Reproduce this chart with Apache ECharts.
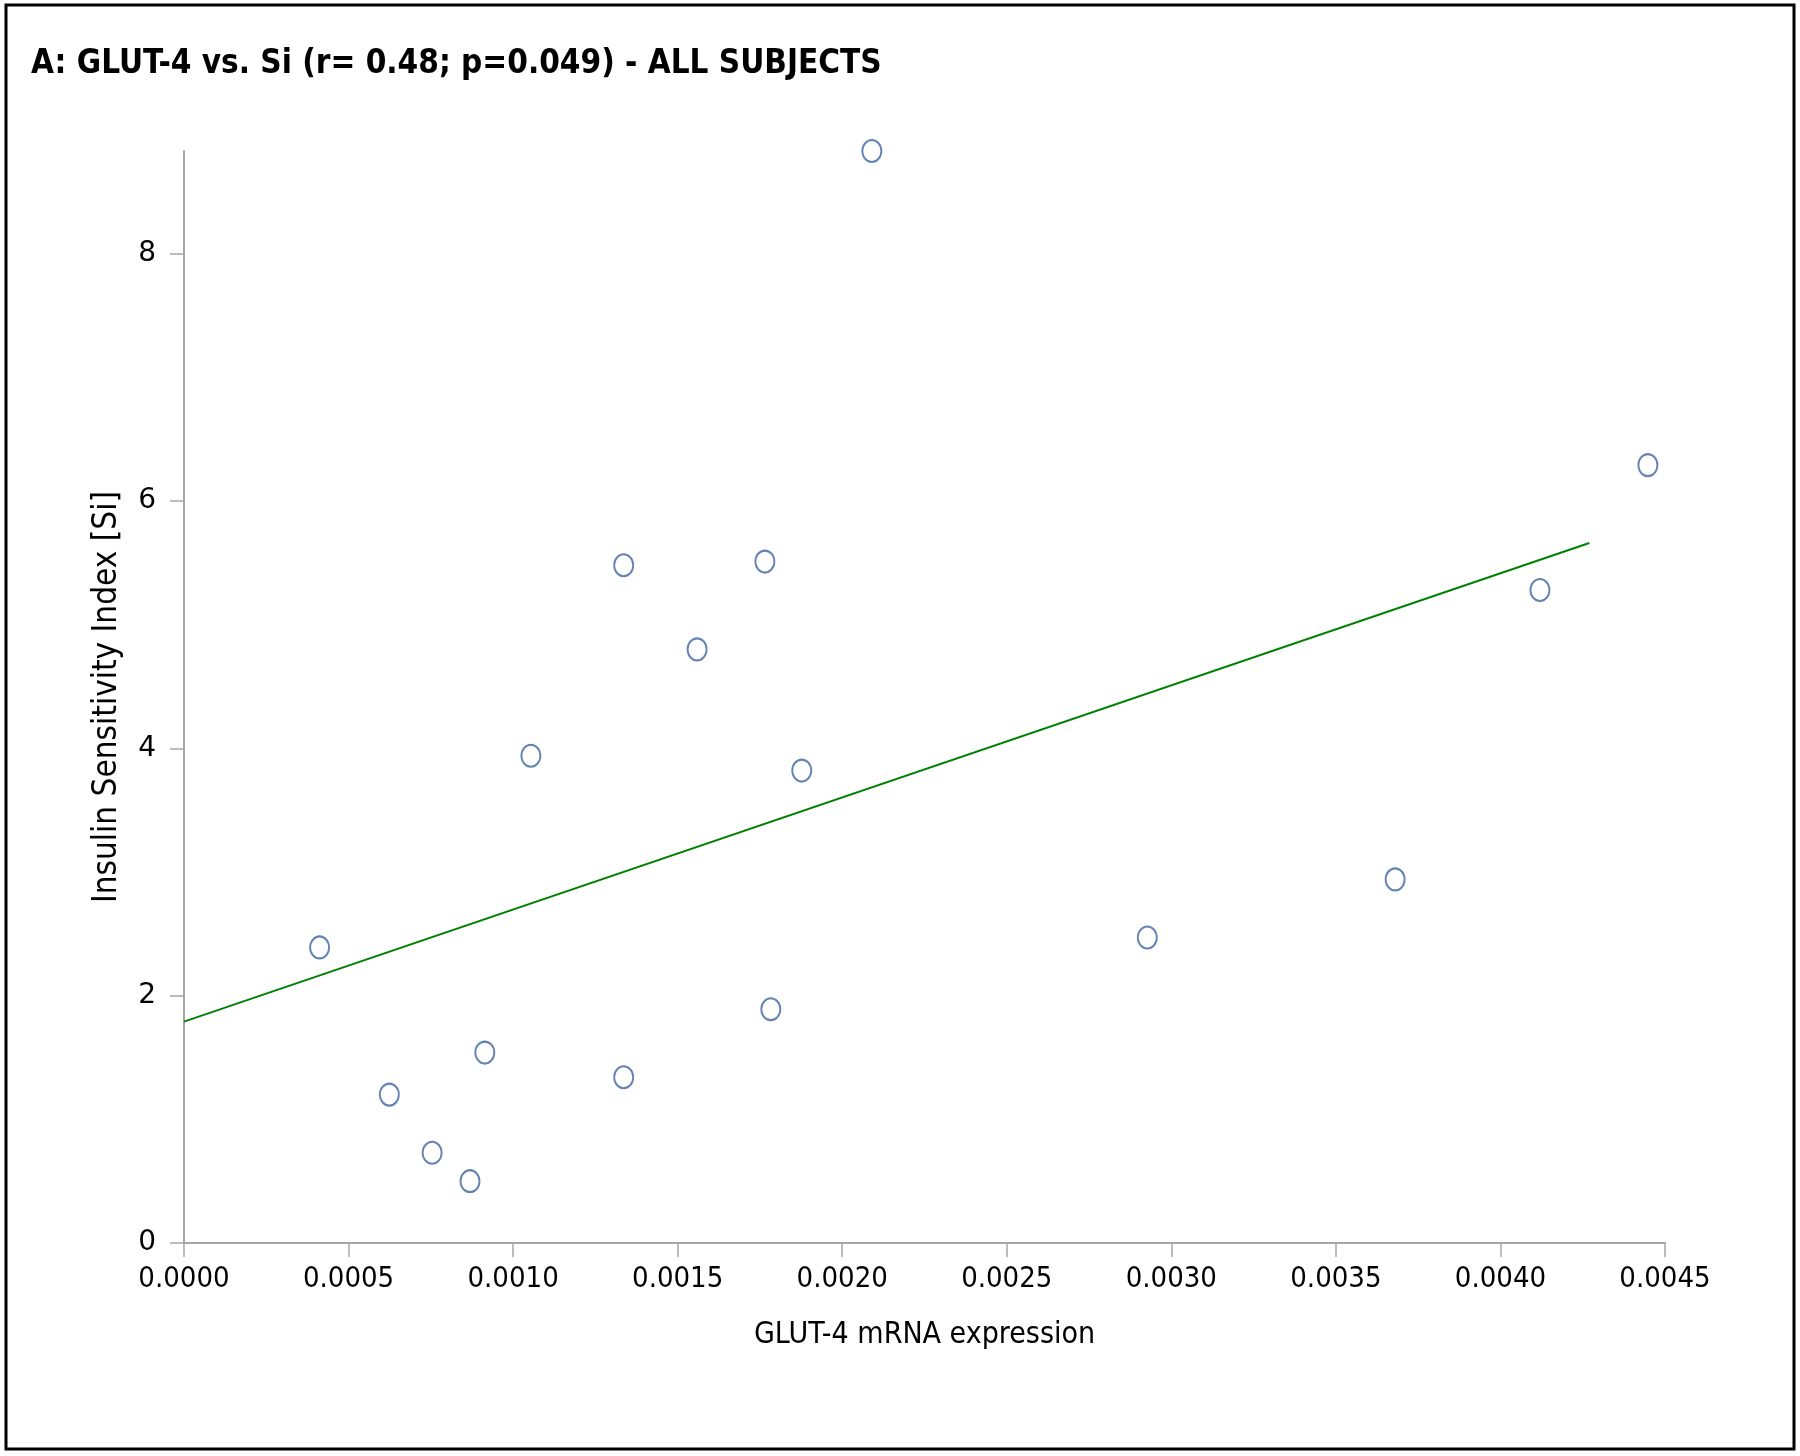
<!DOCTYPE html>
<html>
<head>
<meta charset="utf-8">
<title>GLUT-4 vs. Si</title>
<script src="https://cdn.jsdelivr.net/npm/echarts@6/dist/echarts.min.js"></script>
<style>
html, body { margin: 0; padding: 0; background: #fff; }
#chart { width: 1800px; height: 1456px; }
</style>
</head>
<body>
<div id="chart"></div>
<script>
// GLUT-4 mRNA expression (x) vs insulin sensitivity index (y)
var glut4 = [0.000412, 0.000624, 0.000754, 0.000869, 0.000914, 0.001054, 0.001336, 0.001336,
  0.001559, 0.001765, 0.001783, 0.001877, 0.002090, 0.002927, 0.003680, 0.004120, 0.004448];
var si = [2.39, 1.20, 0.73, 0.50, 1.54, 3.94, 5.48, 1.34,
  4.80, 5.51, 1.89, 3.82, 8.83, 2.47, 2.94, 5.28, 6.29];

// linear trend line end points
var trendX = [0, 0.00427];
var trendY = [1.79, 5.66];

// axis ticks
var xTicks = [0, 0.0005, 0.0010, 0.0015, 0.0020, 0.0025, 0.0030, 0.0035, 0.0040, 0.0045];
var yTicks = [0, 2, 4, 6, 8];
var yMax = 8.83;

var FONT = '"Liberation Sans Narrow", "DejaVu Sans Condensed", "Liberation Sans", sans-serif';

var points = glut4.map(function (x, i) { return [x, si[i]]; });
var trend = trendX.map(function (x, i) { return [x, trendY[i]]; });

var myChart = echarts.init(document.getElementById('chart'));
myChart.setOption({
  backgroundColor: '#fff',
  animation: false,
  title: {
    text: 'A: GLUT-4 vs. Si (r= 0.48; p=0.049) - ALL SUBJECTS',
    left: 26,
    top: 43,
    textStyle: { fontFamily: FONT, fontSize: 33, fontWeight: 'bold', color: '#000' }
  },
  graphic: [{
    type: 'rect',
    shape: { x: 6, y: 5, width: 1788, height: 1444 },
    style: { fill: null, stroke: '#000', lineWidth: 3 },
    silent: true
  }],
  grid: { left: 184, right: 135, top: 151, bottom: 213 },
  xAxis: {
    type: 'value',
    min: 0,
    max: 0.0045,
    interval: 0.0005,
    name: 'GLUT-4 mRNA expression',
    nameLocation: 'middle',
    nameGap: 77,
    nameTextStyle: { fontFamily: FONT, fontSize: 30, color: '#000' },
    axisLine: { lineStyle: { color: '#A6A6A6', width: 2 } },
    axisTick: { show: true, inside: false, length: 14, lineStyle: { color: '#A6A6A6', width: 1.5 } },
    axisLabel: {
      fontFamily: FONT, fontSize: 29, color: '#000', margin: 22,
      customValues: xTicks,
      formatter: function (v) { return v.toFixed(4); }
    },
    splitLine: { show: false }
  },
  yAxis: {
    type: 'value',
    min: 0,
    max: yMax,
    name: 'Insulin Sensitivity Index [Si]',
    nameLocation: 'middle',
    nameGap: 60,
    nameTextStyle: { fontFamily: FONT, fontSize: 33, color: '#000' },
    axisLine: { show: true, lineStyle: { color: '#A6A6A6', width: 2 } },
    axisTick: { show: true, length: 14, customValues: yTicks, lineStyle: { color: '#A6A6A6', width: 1.5 } },
    axisLabel: {
      fontFamily: '"DejaVu Sans", sans-serif', fontSize: 28, color: '#000', margin: 28,
      customValues: yTicks
    },
    splitLine: { show: false }
  },
  series: [
    {
      type: 'line',
      data: trend,
      symbol: 'none',
      lineStyle: { color: '#008000', width: 2 },
      z: 2
    },
    {
      type: 'scatter',
      data: points,
      symbol: 'circle',
      symbolSize: [19, 22],
      itemStyle: { color: '#fff', borderColor: '#3B64A0', borderWidth: 2 },
      z: 3
    }
  ]
});
</script>
</body>
</html>
